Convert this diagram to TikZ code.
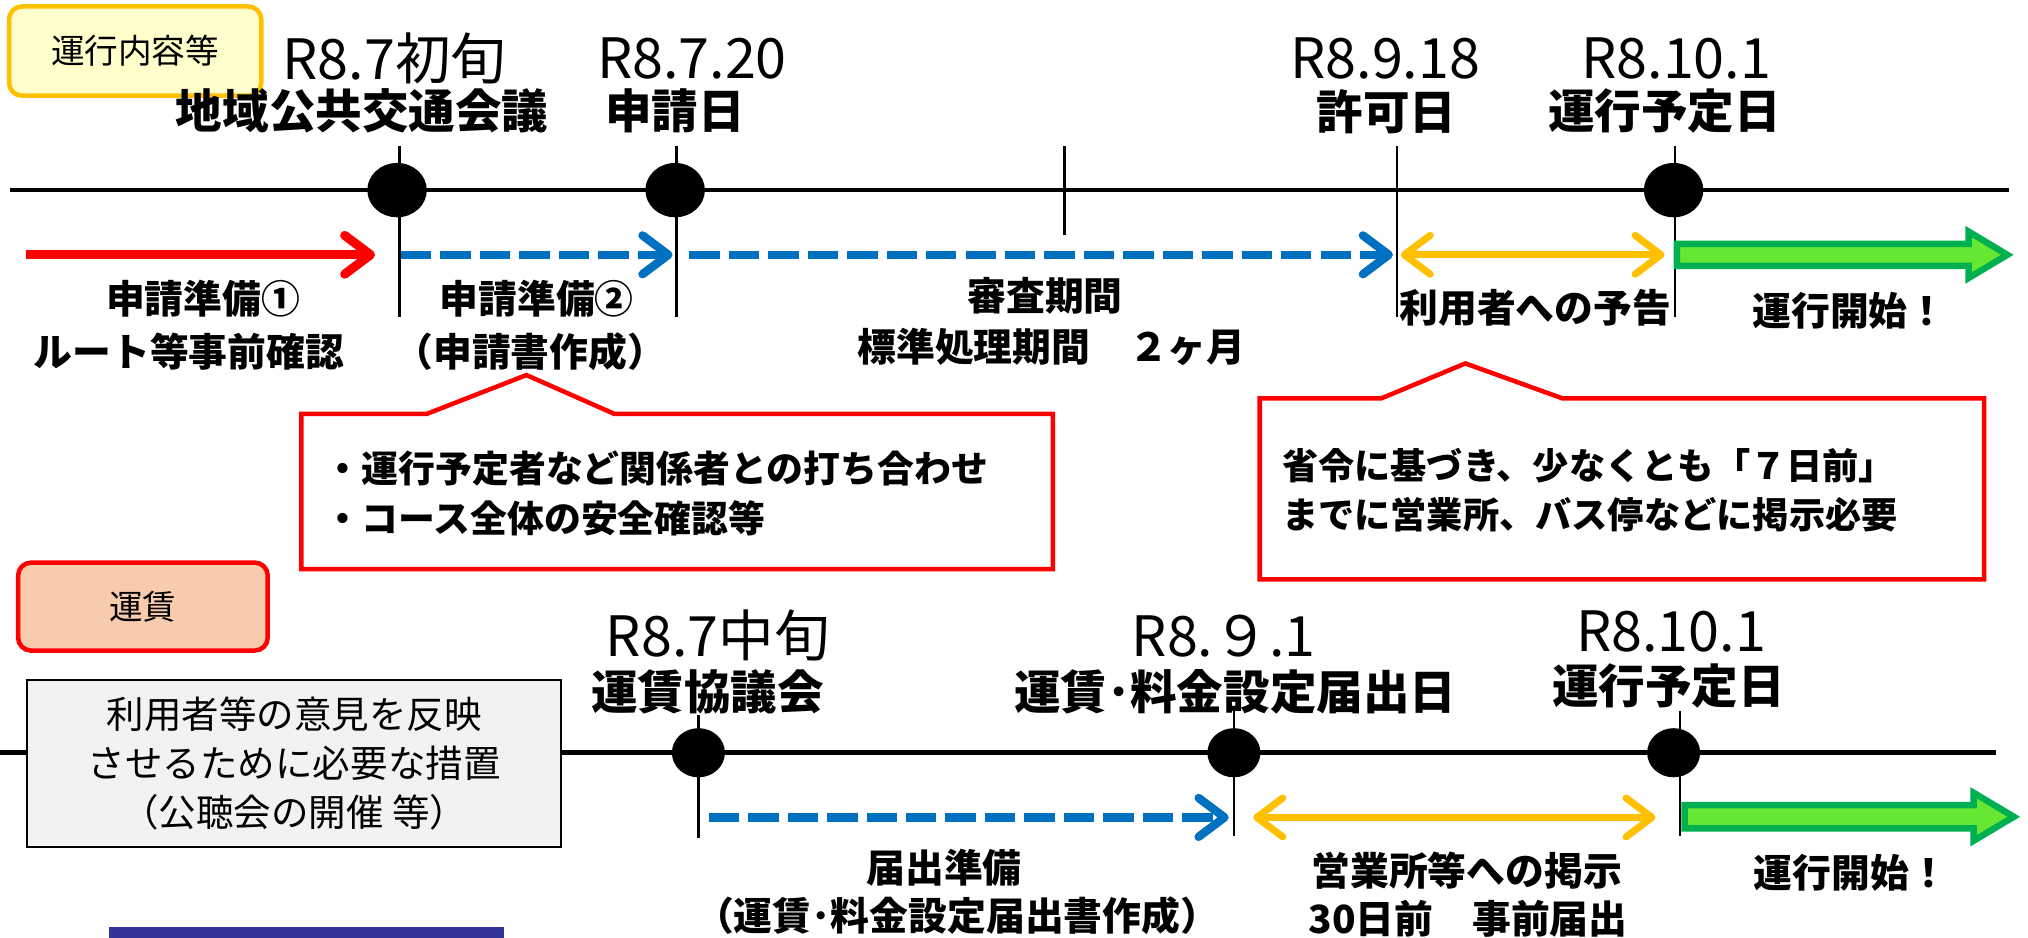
\documentclass[tikz,border=0pt]{standalone}
\usepackage{fontspec}
\setmainfont{Noto Sans CJK JP}
\usetikzlibrary{arrows.meta,shapes.geometric}
\definecolor{cred}{HTML}{FF0000}
\definecolor{cblue}{HTML}{0070C0}
\definecolor{corange}{HTML}{FFC000}
\definecolor{cyellow}{HTML}{FFFFCC}
\definecolor{cpeach}{HTML}{F8CBAD}
\definecolor{cgray}{HTML}{F2F2F2}
\definecolor{cgreen}{HTML}{66E833}
\definecolor{cdgreen}{HTML}{00B050}
\definecolor{cnavy}{HTML}{333399}
\tikzset{
  txt/.style={inner sep=0pt, anchor=center},
  datel/.style={txt, font=\fontsize{43}{50}\selectfont},
  ttl/.style={txt, font=\bfseries\fontsize{36}{42}\selectfont},
  lbl/.style={txt, font=\bfseries\fontsize{30}{36}\selectfont},
  tline/.style={line width=3.5pt, black},
  tickln/.style={line width=2pt, black},
  evdot/.style={ellipse, fill=black, inner sep=0pt, minimum width=46pt, minimum height=42pt},
  bevdot/.style={evdot, minimum width=41pt, minimum height=38pt},
  barb/.tip={Straight Barb[length=20pt,width=30pt,round]},
  redarr/.style={draw=cred, line width=7pt, -barb},
  bluearr/.style={draw=cblue, line width=6.5pt, dash pattern=on 23.5pt off 7pt, -barb},
  orarr/.style={draw=corange, line width=5.5pt, barb-barb},
  garr/.style={draw=cdgreen, fill=cgreen, line width=5pt, line join=miter},
  cbox/.style={draw=cred, line width=3.5pt, fill=white, line join=miter},
  cbtxt/.style={inner sep=0pt, anchor=west, align=left, font=\bfseries\fontsize{28.5}{39}\selectfont},
  tagbox/.style={rounded corners=10pt, line width=3.5pt, inner sep=0pt, font=\fontsize{26}{30}\selectfont},
}
\begin{document}
\begin{tikzpicture}[x=1pt,y=-1pt]
\useasboundingbox (0,0) rectangle (1568,725);

% ===== top section =====
\node[tagbox, draw=corange, fill=cyellow, minimum width=195pt, minimum height=69pt] (tagA) at (104.5,39.5) {運行内容等};

\node[datel] (d1) at (305,45) {R8.7初旬};
\node[ttl] (t1) at (280,86) {地域公共交通会議};
\node[datel] (d2) at (535,45) {R8.7.20};
\node[ttl] (t2) at (522,86) {申請日};
\node[datel] (d3) at (1071,45) {R8.9.18};
\node[ttl] (t3) at (1072,86) {許可日};
\node[datel] (d4) at (1296,45) {R8.10.1};
\node[ttl] (t4) at (1287,86) {運行予定日};

\coordinate (tl0) at (8,147);
\coordinate (tl1) at (1553,147);
\draw[tline] (tl0) -- (tl1);

\coordinate (k1a) at (309,113); \coordinate (k1b) at (309,245);
\coordinate (k2a) at (523,113); \coordinate (k2b) at (523,245);
\coordinate (k3a) at (823,113); \coordinate (k3b) at (823,182);
\coordinate (k4a) at (1080,113); \coordinate (k4b) at (1080,245);
\coordinate (k5a) at (1295,113); \coordinate (k5b) at (1295,245);
\draw[tickln] (k1a) -- (k1b);
\draw[tickln] (k2a) -- (k2b);
\draw[tickln] (k3a) -- (k3b);
\draw[tickln] (k4a) -- (k4b);
\draw[tickln] (k5a) -- (k5b);

\node[evdot] (c1) at (307,147) {};
\node[evdot] (c2) at (522,147) {};
\node[evdot] (c3) at (1294,147) {};

\coordinate (ra0) at (20,197);  \coordinate (ra1) at (290,197);
\coordinate (ba0) at (310,197); \coordinate (ba1) at (520,197);
\coordinate (bb0) at (533,197); \coordinate (bb1) at (1077,197);
\coordinate (oa0) at (1083,197); \coordinate (oa1) at (1287,197);
\draw[redarr] (ra0) -- (ra1);
\draw[bluearr] (ba0) -- (ba1);
\draw[bluearr] (bb0) -- (bb1);
\draw[orarr] (oa0) -- (oa1);
\draw[garr] (1296.5,188.5) -- (1522,188.5) -- (1522,179) -- (1552,197) -- (1522,215) -- (1522,205.5) -- (1296.5,205.5) -- cycle;

\node[lbl] (l1a) at (157,231) {申請準備①};
\node[lbl] (l1b) at (146,272) {ルート等事前確認};
\node[lbl] (l2a) at (415,231) {申請準備②};
\node[lbl] (l2b) at (410,272) {（申請書作成）};
\node[lbl] (l3a) at (808,229) {審査期間};
\node[lbl] (l3b) at (813,268) {標準処理期間　２ヶ月};
\node[lbl] (l4) at (1187,238) {利用者への予告};
\node[lbl] (l5) at (1430,240) {運行開始！};

% callouts
\draw[cbox] (233,320) -- (330,320) -- (407,290) -- (475,320) -- (814,320) -- (814,440) -- (233,440) -- cycle;
\node[cbtxt] (cb1) at (251,381.5) {・運行予定者など関係者との打ち合わせ\\・コース全体の安全確認等};
\draw[cbox] (974,308) -- (1068,308) -- (1133,281) -- (1208,308) -- (1534,308) -- (1534,448) -- (974,448) -- cycle;
\node[cbtxt, font=\bfseries\fontsize{28}{38}\selectfont] (cb2) at (991,379) {省令に基づき、少なくとも「７日前」\\までに営業所、バス停などに掲示必要};

% ===== bottom section =====
\node[tagbox, draw=cred, fill=cpeach, minimum width=193pt, minimum height=68pt] (tagB) at (110.5,469) {運賃};

\coordinate (bl0) at (0,582);
\coordinate (bl1) at (1543,582);
\draw[tline] (bl0) -- (bl1);

\node[draw=black, fill=cgray, line width=1.5pt, inner sep=0pt, minimum width=413pt, minimum height=129pt, align=center, font=\fontsize{29}{38}\selectfont] (gbox) at (227.5,590.5) {利用者等の意見を反映\\させるために必要な措置\\（公聴会の開催 等）};

\node[datel] (e1) at (555,491) {R8.7中旬};
\node[ttl] (u1) at (547,535) {運賃協議会};
\node[datel] (e2) at (946,492) {R8.９.1};
\node[ttl] (u2) at (955,535) {運賃･料金設定届出日};
\node[datel] (e3) at (1292,488) {R8.10.1};
\node[ttl] (u3) at (1290,530) {運行予定日};

\coordinate (m1a) at (540,553); \coordinate (m1b) at (540,648);
\coordinate (m2a) at (954,550); \coordinate (m2b) at (954,646);
\coordinate (m3a) at (1299,550); \coordinate (m3b) at (1299,646);
\draw[tickln] (m1a) -- (m1b);
\draw[tickln] (m2a) -- (m2b);
\draw[tickln] (m3a) -- (m3b);

\node[bevdot] (f1) at (540,582) {};
\node[bevdot] (f2) at (954,582) {};
\node[bevdot] (f3) at (1294,582) {};

\coordinate (bc0) at (548,632); \coordinate (bc1) at (950,632);
\coordinate (ob0) at (969,632); \coordinate (ob1) at (1280,632);
\draw[bluearr] (bc0) -- (bc1);
\draw[orarr] (ob0) -- (ob1);
\draw[garr] (1302.5,622.5) -- (1526,622.5) -- (1526,613) -- (1557,631.5) -- (1526,650) -- (1526,640.5) -- (1302.5,640.5) -- cycle;

\node[lbl] (n1a) at (730,671) {届出準備};
\node[lbl] (n1b) at (740,708) {（運賃･料金設定届出書作成）};
\node[lbl] (n2a) at (1134,673) {営業所等への掲示};
\node[lbl] (n2b) at (1135,710) {30日前　事前届出};
\node[lbl] (n3) at (1431,675) {運行開始！};

\fill[cnavy] (84,717) rectangle (390,725);
\end{tikzpicture}
\end{document}
